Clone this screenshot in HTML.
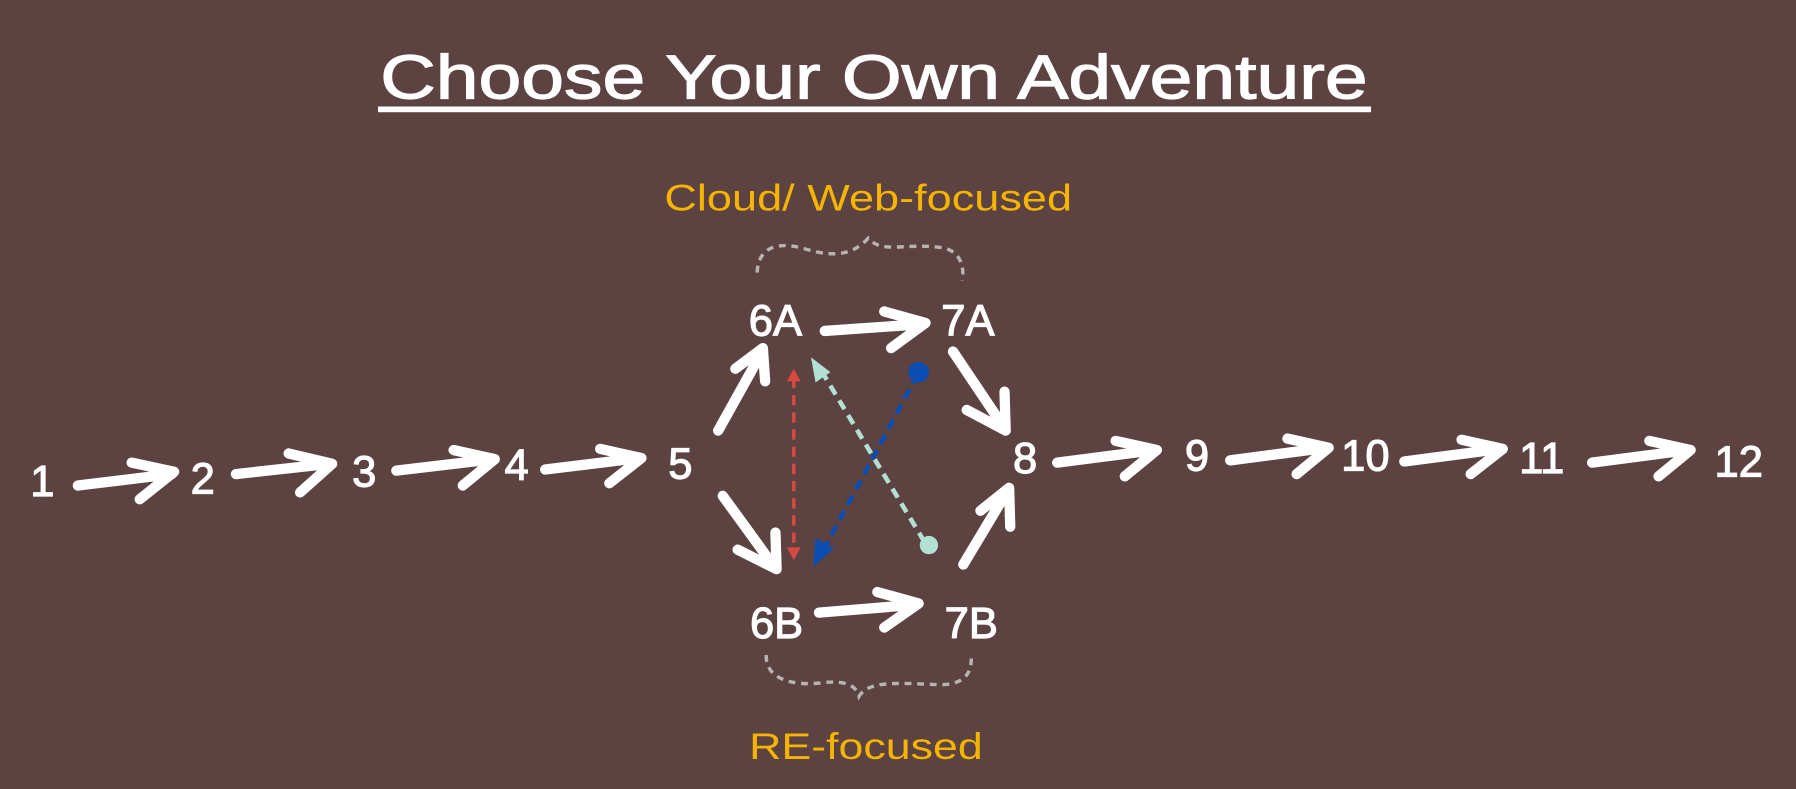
<!DOCTYPE html>
<html><head><meta charset="utf-8"><style>
html,body{margin:0;padding:0;background:#5c4240;}
svg{display:block}
text{font-family:"Liberation Sans",sans-serif;}
</style></head><body>
<svg width="1796" height="789" viewBox="0 0 1568 689" preserveAspectRatio="none">
<rect width="1568" height="689" fill="#5c4240"/>
<text x="763" y="86" fill="#fff" font-size="54" text-anchor="middle" textLength="862" lengthAdjust="spacingAndGlyphs" stroke="#fff" stroke-width="1">Choose Your Own Adventure</text>
<rect x="330" y="93" width="867" height="5" fill="#fff"/>
<g fill="#f5b400" font-size="32" text-anchor="middle">
<text x="758" y="184" textLength="356" lengthAdjust="spacingAndGlyphs">Cloud/ Web-focused</text>
<text x="756" y="663" textLength="204" lengthAdjust="spacingAndGlyphs">RE-focused</text>
</g>
<g fill="#fff" font-size="38" text-anchor="middle" stroke="#fff" stroke-width="1">
<text x="37" y="433">1</text><text x="177" y="431">2</text><text x="318" y="425">3</text>
<text x="451" y="419">4</text><text x="594" y="418">5</text>
<text x="677" y="293">6A</text><text x="845" y="293">7A</text>
<text x="895" y="413">8</text><text x="1045" y="411">9</text><text x="1192" y="411">10</text>
<text x="1346" y="413">11</text><text x="1518" y="416">12</text>
<text x="678" y="557">6B</text><text x="848" y="557">7B</text>
</g>
<g stroke="#fff" stroke-width="9" stroke-linecap="round" stroke-linejoin="round" fill="none">
<path d="M68 424 L150 414 M115 404 L152 412 L122 436"/>
<path d="M206 414 L288 405 M252 396 L290 405 L262 430"/>
<path d="M346 411 L430 401 M396 393 L432 401 L404 424"/>
<path d="M476 410 L558 400 M524 392 L560 400 L532 422"/>
<path d="M923 404 L1008 393 M974 385 L1010 393 L982 416"/>
<path d="M1074 402 L1158 391 M1124 383 L1160 391 L1132 414"/>
<path d="M1226 403 L1310 392 M1276 384 L1312 392 L1284 414"/>
<path d="M1390 404 L1474 393 M1440 385 L1476 393 L1448 416"/>
<path d="M720 289 L806 283 M772 272 L808 282 L778 304"/>
<path d="M715 535 L800 528 M766 517 L802 527 L772 548"/>
<path d="M627 376 L666 306 M642 322 L666 304 L668 333"/>
<path d="M832 307 L877 374 M844 358 L878 376 L877 342"/>
<path d="M631 433 L676 495 M644 480 L678 497 L677 465"/>
<path d="M841 493 L880 428 M856 446 L881 426 L882 460"/>
</g>
<g fill="none" stroke-width="3" stroke-dasharray="9 6">
<path d="M693 330 L693 480" stroke="#d9493f"/>
<path d="M807 473 L716 322" stroke="#b2e0d2" stroke-width="4"/>
<path d="M801 327 L718 482" stroke="#0b4db0" stroke-width="4"/>
</g>
<path d="M687 333 L693 322 L699 333Z M687 478 L693 489 L699 478Z" fill="#d9493f"/>
<path d="M708 312 L712 334 L725 325Z" fill="#b2e0d2"/>
<circle cx="811" cy="476" r="8" fill="#b2e0d2"/>
<path d="M710 495 L712 470 L728 479Z" fill="#0b4db0"/>
<circle cx="802" cy="325" r="9" fill="#0b4db0"/>
<g fill="none" stroke="#b9b3b1" stroke-width="3" stroke-dasharray="6 5">
<path d="M661 238 C662 215 680 210 705 218 C730 225 745 222 758 208 C770 222 790 212 820 216 C840 218 842 235 840 245"/>
<path d="M669 572 C668 592 690 600 720 596 C740 594 748 600 750 608 C758 595 780 596 820 598 C845 598 848 585 848 575"/>
</g>
</svg>
</body></html>
